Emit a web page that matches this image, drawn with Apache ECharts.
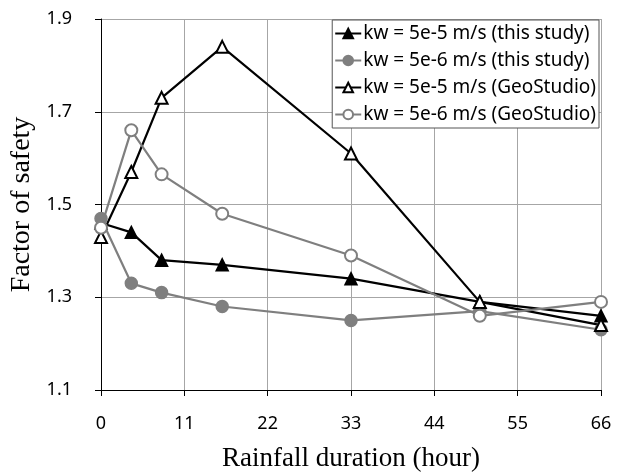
<!DOCTYPE html>
<html lang="en">
<head>
    <meta charset="UTF-8">
    <title>Factor of safety</title>
    <style>html,body{margin:0;padding:0;background:#fff;}</style>
</head>
<body>
    <div id="chart" style="width: 627px;height:472px;"></div>
</body>
</html>
<script src="https://cdn.jsdelivr.net/npm/echarts@6/dist/echarts.min.js"></script>
<script type="text/javascript">
    const hours = [0, 4, 8, 16, 33, 50, 66];

    const fsKw5Study = [1.46, 1.44, 1.38, 1.37, 1.34, 1.29, 1.26];
    const fsKw6Study = [1.47, 1.33, 1.31, 1.28, 1.25, 1.27, 1.23];
    const fsKw5Geo = [1.43, 1.57, 1.73, 1.84, 1.61, 1.29, 1.24];
    const fsKw6Geo = [1.45, 1.66, 1.565, 1.48, 1.39, 1.26, 1.29];

    const seriesNames = [
        'kw = 5e-5 m/s (this study)',
        'kw = 5e-6 m/s (this study)',
        'kw = 5e-5 m/s (GeoStudio)',
        'kw = 5e-6 m/s (GeoStudio)'
    ];

    const chart = echarts.init(document.getElementById('chart'));

    function pairs(vals) {
        return hours.map((h, i) => [h, vals[i]]);
    }

    function line(name, vals, color, symbol, size) {
        return {
            name: name,
            type: 'line',
            data: pairs(vals),
            symbol: symbol,
            symbolSize: size,
            showAllSymbol: true,
            lineStyle: {color: color, width: 2.2},
            itemStyle: {color: color, borderColor: color, borderWidth: 1.5},
            animation: false
        };
    }

    const sansFont = '"Noto Sans", sans-serif';
    const serifFont = '"Liberation Serif", "DejaVu Serif", serif';

    chart.setOption({
        backgroundColor: '#fff',
        grid: {left: 101, right: 26, top: 19, bottom: 82, outerBoundsMode: 'none'},
        legend: {
            right: 28,
            top: 20,
            orient: 'vertical',
            itemGap: 8,
            itemWidth: 26,
            itemHeight: 12,
            padding: [4, 3, 4, 2],
            backgroundColor: '#fff',
            borderColor: '#555',
            borderWidth: 1,
            borderRadius: 0,
            textStyle: {fontFamily: sansFont, fontSize: 19, lineHeight: 19, color: '#000', padding: [0, 0, 0, -3]},
            data: seriesNames
        },
        xAxis: {
            type: 'value',
            min: 0,
            max: 66,
            interval: 11,
            name: 'Rainfall duration (hour)',
            nameLocation: 'middle',
            nameGap: 55,
            nameTextStyle: {fontFamily: serifFont, fontSize: 27, color: '#000'},
            axisLine: {lineStyle: {color: '#000', width: 1}},
            axisTick: {show: true, length: 6, lineStyle: {color: '#000'}},
            axisLabel: {fontFamily: sansFont, fontSize: 18, color: '#000', margin: 25},
            splitLine: {show: true, lineStyle: {color: '#a6a6a6', width: 1}}
        },
        yAxis: {
            type: 'value',
            min: 1.1,
            max: 1.9,
            interval: 0.2,
            name: 'Factor of safety',
            nameLocation: 'middle',
            nameGap: 56,
            nameTextStyle: {fontFamily: serifFont, fontSize: 28, color: '#000'},
            axisLine: {show: true, lineStyle: {color: '#000', width: 1}},
            axisTick: {show: true, length: 6, lineStyle: {color: '#000'}},
            axisLabel: {
                fontFamily: sansFont, fontSize: 18, color: '#000', margin: 29,
                formatter: v => v.toFixed(1)
            },
            splitLine: {show: true, lineStyle: {color: '#a6a6a6', width: 1}}
        },
        series: [
            line(seriesNames[0], fsKw5Study, '#000', 'triangle', 12),
            line(seriesNames[1], fsKw6Study, '#7f7f7f', 'circle', 12),
            line(seriesNames[2], fsKw5Geo, '#000', 'emptyTriangle', 12),
            line(seriesNames[3], fsKw6Geo, '#7f7f7f', 'emptyCircle', 12)
        ]
    });
</script>
